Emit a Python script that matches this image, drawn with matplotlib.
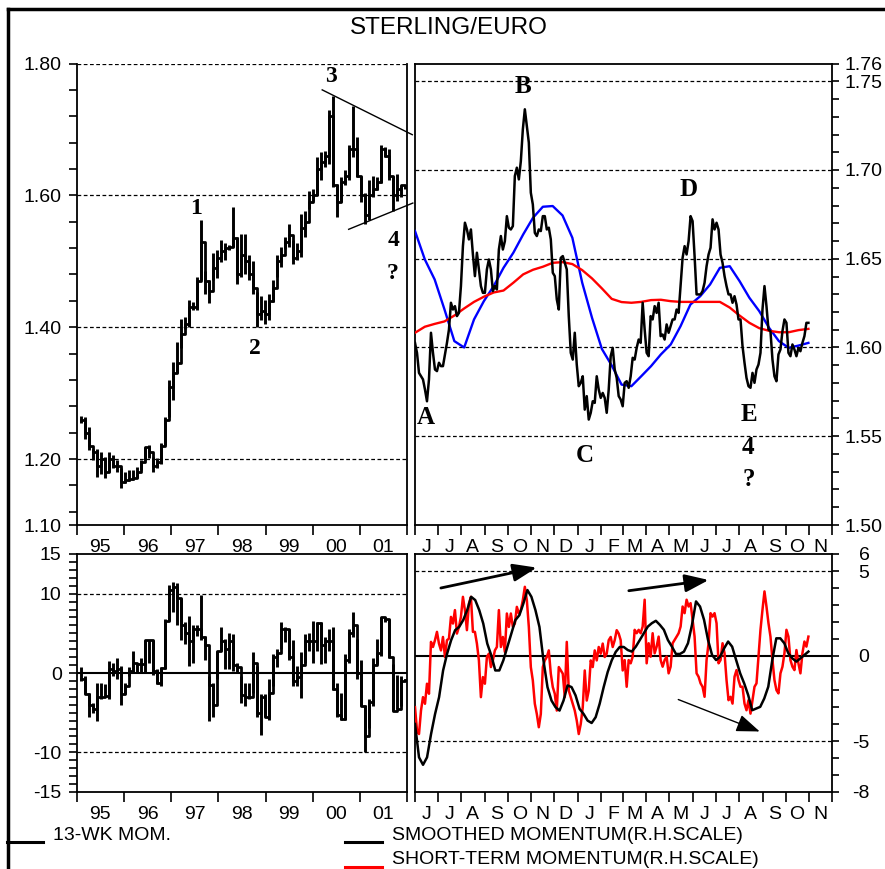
import numpy as np
import pandas as pd
import matplotlib
matplotlib.use("Agg")
import matplotlib.pyplot as plt
import matplotlib.dates as mdates
from matplotlib.lines import Line2D
from matplotlib.ticker import MultipleLocator, FixedLocator, FuncFormatter, NullFormatter

plt.rcParams['font.family'] = ['Liberation Sans', 'DejaVu Sans']
plt.rcParams['font.size'] = 14
plt.rcParams['axes.unicode_minus'] = False

# ---- long-term weekly chart (one bar per period, Feb 1995 - Dec 2001) ----
bar_high = [1.266, 1.264, 1.249, 1.216, 1.216, 1.211, 1.203, 1.211, 1.206, 1.199,
            1.186, 1.181, 1.183, 1.183, 1.188, 1.199, 1.219, 1.221, 1.203, 1.201,
            1.224, 1.264, 1.320, 1.347, 1.378, 1.413, 1.416, 1.441, 1.438, 1.476,
            1.562, 1.486, 1.471, 1.512, 1.517, 1.532, 1.527, 1.525, 1.583, 1.537,
            1.542, 1.542, 1.509, 1.501, 1.453, 1.448, 1.441, 1.451, 1.471, 1.509,
            1.522, 1.537, 1.557, 1.532, 1.527, 1.572, 1.577, 1.607, 1.610, 1.658,
            1.666, 1.668, 1.729, 1.751, 1.617, 1.628, 1.638, 1.676, 1.736, 1.688,
            1.630, 1.603, 1.623, 1.630, 1.628, 1.676, 1.673, 1.671, 1.630, 1.633,
            1.615, 1.615]
bar_low = [1.254, 1.231, 1.214, 1.199, 1.173, 1.178, 1.171, 1.181, 1.186, 1.181,
           1.156, 1.163, 1.166, 1.168, 1.171, 1.183, 1.199, 1.201, 1.181, 1.186,
           1.193, 1.221, 1.264, 1.289, 1.330, 1.368, 1.398, 1.400, 1.426, 1.426,
           1.471, 1.451, 1.436, 1.471, 1.474, 1.499, 1.502, 1.517, 1.522, 1.466,
           1.476, 1.481, 1.471, 1.451, 1.400, 1.411, 1.405, 1.411, 1.438, 1.476,
           1.491, 1.519, 1.522, 1.496, 1.502, 1.507, 1.537, 1.580, 1.592, 1.600,
           1.623, 1.643, 1.648, 1.612, 1.567, 1.590, 1.615, 1.623, 1.658, 1.628,
           1.590, 1.557, 1.562, 1.597, 1.608, 1.618, 1.658, 1.623, 1.577, 1.592,
           1.597, 1.610]
bar_close = [1.259, 1.240, 1.220, 1.210, 1.190, 1.200, 1.180, 1.200, 1.190, 1.190,
             1.165, 1.168, 1.170, 1.172, 1.180, 1.195, 1.218, 1.210, 1.190, 1.195,
             1.220, 1.260, 1.310, 1.330, 1.345, 1.390, 1.405, 1.430, 1.430, 1.470,
             1.530, 1.470, 1.455, 1.490, 1.505, 1.515, 1.520, 1.522, 1.535, 1.480,
             1.510, 1.500, 1.480, 1.460, 1.420, 1.425, 1.420, 1.440, 1.460, 1.500,
             1.510, 1.530, 1.540, 1.505, 1.515, 1.550, 1.560, 1.590, 1.600, 1.640,
             1.650, 1.660, 1.720, 1.615, 1.590, 1.620, 1.630, 1.670, 1.670, 1.630,
             1.600, 1.570, 1.600, 1.610, 1.620, 1.670, 1.660, 1.630, 1.600, 1.610,
             1.615, 1.612]

# 13-week momentum, same periods
mom_high = [0.7, -0.4, -2.5, -3.8, -1.2, -1.2, -1.4, 1.5, 1.3, 1.9,
            0.9, -1.2, 0.7, 2.8, 1.3, 1.9, 4.1, 4.1, 4.1, 0.5,
            0.7, 6.8, 11.1, 11.5, 11.3, 9.4, 6.4, 7.2, 6.0, 6.0,
            9.8, 4.7, -0.4, -1.2, 2.8, 5.8, 4.3, 5.1, 4.9, 1.3,
            -0.4, -1.2, -1.2, 2.6, 0.9, -2.7, -2.7, -0.8, 2.4, 3.0,
            6.4, 5.8, 5.6, 4.1, 0.9, 2.6, 4.9, 5.1, 6.6, 6.4,
            6.4, 4.5, 5.6, 5.8, -1.2, -2.5, 2.4, 5.6, 7.7, 4.3,
            1.7, -4.0, -3.3, 1.9, 4.3, 7.0, 7.0, 6.8, 1.1, -0.2,
            -0.4, -0.8]
mom_low = [-1.0, -2.7, -5.5, -5.0, -6.1, -3.3, -2.9, -3.3, -0.4, -0.8,
           -4.0, -2.7, -0.4, 0.0, 0.0, 0.0, 0.0, 1.3, -0.2, -1.4,
           -1.7, 0.5, 6.6, 7.7, 6.0, 4.1, 3.6, 0.9, 1.3, 4.7,
           4.1, 1.7, -6.1, -5.5, -0.8, 2.8, 0.5, 0.5, 0.3, 0.0,
           -3.8, -4.2, -3.3, -2.5, -5.5, -7.8, -5.5, -5.9, -1.7, 0.7,
           3.0, 3.9, 1.7, -1.7, -1.7, -3.1, 1.3, 2.8, 1.3, 2.8,
           1.1, 1.3, 2.8, -2.1, -5.5, -5.9, -5.9, 1.3, 4.5, -0.8,
           -4.2, -9.9, -6.9, -4.2, 1.1, 2.2, 6.4, 1.9, -4.8, -4.6,
           -4.2, -1.0]
mom_close = [-0.8, -2.7, -4.0, -4.5, -3.0, -3.0, -2.9, 0.5, 0.3, 0.5,
             -2.7, -1.7, 0.2, 1.2, 1.1, 1.1, 4.1, 4.1, 0.3, -1.2,
             0.6, 6.5, 10.5, 10.8, 9.5, 6.0, 5.0, 4.0, 5.5, 5.5,
             4.5, 3.5, -1.5, -4.0, 2.8, 4.0, 3.0, 4.0, 1.0, 0.8,
             -2.8, -3.0, -3.0, 1.2, -5.0, -3.0, -5.5, -2.5, 2.0, 2.5,
             5.5, 5.5, 2.0, -1.0, -0.5, 1.0, 4.0, 4.0, 4.0, 6.3,
             3.5, 4.0, 4.0, -2.0, -5.3, -5.8, 1.7, 5.0, 6.0, 0.0,
             -4.2, -8.0, -3.6, 1.0, 2.5, 7.0, 6.8, 2.0, -4.8, -4.5,
             -1.0, -0.9]

# ---- daily chart, June 2000 - October 2001 ----
spot = [1.6026, 1.5970, 1.5857, 1.5838, 1.5820, 1.5763, 1.5697, 1.5820, 1.6083, 1.5970,
        1.5876, 1.5867, 1.5914, 1.5895, 1.5895, 1.5961, 1.6026, 1.6101, 1.6252, 1.6214,
        1.6233, 1.6177, 1.6195, 1.6346, 1.6571, 1.6703, 1.6665, 1.6609, 1.6665, 1.6524,
        1.6402, 1.6534, 1.6440, 1.6346, 1.6308, 1.6308, 1.6440, 1.6496, 1.6440, 1.6318,
        1.6346, 1.6327, 1.6552, 1.6628, 1.6552, 1.6599, 1.6740, 1.6675, 1.6665, 1.6684,
        1.6966, 1.7013, 1.6947, 1.7050, 1.7229, 1.7342, 1.7248, 1.7154, 1.6872, 1.6806,
        1.6646, 1.6628, 1.6665, 1.6656, 1.6740, 1.6740, 1.6665, 1.6675, 1.6609, 1.6421,
        1.6402, 1.6271, 1.6214, 1.6505, 1.6515, 1.6477, 1.6440, 1.6177, 1.5970, 1.5932,
        1.6083, 1.5904, 1.5782, 1.5801, 1.5838, 1.5650, 1.5726, 1.5594, 1.5632, 1.5697,
        1.5688, 1.5838, 1.5763, 1.5716, 1.5744, 1.5716, 1.5632, 1.5763, 1.5951, 1.5998,
        1.5876, 1.5829, 1.5726, 1.5707, 1.5669,
        1.5801, 1.5810, 1.5773, 1.5838, 1.5942, 1.5932, 1.5998, 1.6045, 1.6026, 1.6252,
        1.6101, 1.5970, 1.5951, 1.6177, 1.6158, 1.6233, 1.6195, 1.6252, 1.6064, 1.6073,
        1.6045, 1.6130, 1.6083, 1.6120, 1.6158, 1.6158, 1.6214, 1.6195, 1.6346, 1.6505,
        1.6571, 1.6524, 1.6599, 1.6740, 1.6712, 1.6515, 1.6299, 1.6299, 1.6299, 1.6318,
        1.6365, 1.6458, 1.6524, 1.6562, 1.6722, 1.6665, 1.6703, 1.6665, 1.6524, 1.6477,
        1.6402, 1.6346, 1.6299, 1.6299, 1.6252, 1.6289, 1.6242, 1.6158, 1.6158, 1.6008,
        1.5914, 1.5829, 1.5782, 1.5773, 1.5857, 1.5801, 1.5876, 1.5904, 1.5970, 1.6214,
        1.6346, 1.6233, 1.6101, 1.6092, 1.5932, 1.5838, 1.5810, 1.5961, 1.5989, 1.6092,
        1.6158, 1.6139, 1.5970, 1.5951, 1.6017, 1.5989, 1.5951, 1.5998, 1.5979, 1.6026,
        1.6064, 1.6139, 1.6139]
ma_fast = [1.6656, 1.6496, 1.6383, 1.6214, 1.6036, 1.6000, 1.6158, 1.6261, 1.6346, 1.6449,
           1.6534, 1.6637, 1.6731, 1.6793, 1.6797, 1.6744, 1.6618, 1.6365, 1.6167, 1.5992,
           1.5899, 1.5791, 1.5782, 1.5838, 1.5895, 1.5961, 1.6017, 1.6120, 1.6242, 1.6289,
           1.6355, 1.6449, 1.6458, 1.6374, 1.6280, 1.6205, 1.6111, 1.6036, 1.5998, 1.6011,
           1.6026]
ma_slow = [1.6083, 1.6117, 1.6133, 1.6147, 1.6180, 1.6220, 1.6257, 1.6286, 1.6310, 1.6321,
           1.6365, 1.6412, 1.6438, 1.6455, 1.6477, 1.6481, 1.6470, 1.6436, 1.6389, 1.6333,
           1.6274, 1.6256, 1.6252, 1.6257, 1.6267, 1.6269, 1.6261, 1.6257, 1.6257, 1.6257,
           1.6257, 1.6257, 1.6225, 1.6180, 1.6139, 1.6109, 1.6094, 1.6086, 1.6086, 1.6098,
           1.6105]

mom_smooth = [-4.00, -5.96, -6.40, -5.96, -4.59, -3.41, -2.42, -0.85, 0.14, 0.93,
              1.52, 1.71, 2.11, 2.70, 3.48, 3.29, 2.70, 1.91, 0.73, 0.04,
              -0.85, -0.85, -0.26, 0.53, 1.32, 2.11, 2.40, 3.09, 3.88, 3.48,
              2.70, 1.71, -0.26, -1.83, -2.62, -3.01, -3.21, -2.62, -1.73, -1.83,
              -2.32, -3.11, -3.41, -3.80, -3.94, -3.60, -2.81, -1.83, -0.94, -0.26,
              0.24, 0.53, 0.53,
              0.35, 0.26, 0.55, 0.94, 1.34, 1.73, 1.93, 2.07, 1.83, 1.54,
              0.94, 0.55, 0.12, 0.12, 0.26, 0.75, 1.83, 3.21, 2.91, 2.13,
              0.94, 0.06, -0.24, -0.04, 0.45, 0.85, 0.55, -0.24, -1.02, -1.61,
              -2.30, -3.19, -3.09, -2.99, -2.50, -1.81, -0.24, 1.04, 1.04, 0.75,
              0.16, -0.14, -0.33, -0.14, 0.06, 0.26]
mom_short = [-3.01, -4.39, -4.59, -3.21, -2.42, -2.81, -1.63, -2.22, 0.83, 0.53,
             0.93, 1.42, 0.73, 0.33, 1.12, -0.06, 0.93, 1.02, 2.30, 1.91,
             2.70, 1.32, 1.71, 2.30, 3.48, 2.70, 1.52, 3.09, 3.48, 1.42,
             1.42, 0.73, -0.26, -2.42, -1.24, -1.63, -0.06, 0.14, -0.65, -0.26,
             0.33, 0.53, 2.70, 0.53, 1.12, 0.24, 2.50, 1.71, 2.50, 1.71,
             1.91, 2.89, 2.50, 2.70, 3.29, 4.07, 3.29, 1.71, -0.65, -1.44,
             -2.81, -3.41, -4.19, -3.41, -0.65, -0.26, -0.06, 0.33, -1.04, -1.83,
             -2.22, -3.21, -0.65, -0.85, -1.04, -2.42, 0.83, -2.03, -2.42, -2.81,
             -3.21, -3.80, -4.59, -4.00, -3.01, -0.85, -2.62, -2.03, -0.26, -0.65,
             0.33, -0.26, 0.53, 0.14, 0.73, -0.06, 0.14, 0.93, 1.12, 0.53,
             0.93, 1.52, 1.32, 0.93, -0.85,
             -0.24, -1.81, -0.24, -0.43, -0.04, 1.54, 1.34, 1.54, 1.34, 1.73,
             3.31, -0.43, 0.75, -0.04, 1.34, 0.16, 0.55, 1.14, -0.24, -0.63,
             -0.24, -0.04, -1.02, -0.63, 0.75, 0.94, 1.14, 1.34, 1.73, 2.91,
             2.52, 3.31, 2.91, 3.11, 2.13, 1.14, -1.02, -1.22, -1.61, -1.81,
             -2.40, -0.24, 0.75, 2.52, 2.32, 2.52, 1.93, -0.43, -0.24, 0.75,
             0.16, -1.42, -2.60, -2.40, -2.80, -1.22, -0.83, -1.42, -1.81, -1.81,
             -2.80, -3.19, -2.60, -3.39, -2.60, -1.81, -1.61, -0.04, 1.54, 2.72,
             3.80, 2.91, 1.93, 1.14, -0.24, -1.42, -2.01, -2.20, -1.02, -0.63,
             0.16, 1.54, 1.14, -0.24, -0.63, -0.83, 0.35, -0.43, -1.02, 0.16,
             0.85, 0.55, 1.14]

bar_dates = pd.date_range('1995-02-01', '2001-12-20', periods=len(bar_close))
day_start, day_end = '2000-06-01', '2001-10-31'
spot_dates = pd.date_range(day_start, day_end, periods=len(spot))
ma_dates = pd.date_range(day_start, day_end, periods=len(ma_fast))
smooth_dates = pd.date_range(day_start, day_end, periods=len(mom_smooth))
short_dates = pd.date_range(day_start, day_end, periods=len(mom_short))

W, H = 885, 869
fig = plt.figure(figsize=(W / 100, H / 100), dpi=100)


def box(x0, y0, x1, y1):
    return [x0 / W, 1 - y1 / H, (x1 - x0) / W, (y1 - y0) / H]


ax_tl = fig.add_axes(box(77, 63.5, 407, 525))
ax_tr = fig.add_axes(box(415, 63.5, 832, 525))
ax_bl = fig.add_axes(box(77, 554, 407, 792))
ax_br = fig.add_axes(box(415, 554, 832, 792))

dash = dict(color='black', lw=0.9, ls=(0, (3, 2)), zorder=1)
serif = dict(family='Liberation Serif', fontweight='bold', fontsize=18,
             ha='center', va='center')


def year_axis(ax):
    ax.set_xlim(pd.Timestamp('1995-01-01'), pd.Timestamp('2002-01-01'))
    ax.xaxis.set_major_locator(mdates.YearLocator())
    ax.xaxis.set_major_formatter(NullFormatter())
    ax.xaxis.set_minor_locator(mdates.MonthLocator(bymonth=7))
    ax.xaxis.set_minor_formatter(mdates.DateFormatter('%y'))
    ax.tick_params(axis='x', which='major', direction='out', length=7, width=1.2)
    ax.tick_params(axis='x', which='minor', length=0, pad=10)


def month_axis(ax):
    ax.set_xlim(pd.Timestamp('2000-06-01'), pd.Timestamp('2001-12-01'))
    ax.xaxis.set_major_locator(mdates.MonthLocator())
    ax.xaxis.set_major_formatter(NullFormatter())
    ax.xaxis.set_minor_locator(mdates.MonthLocator(bymonthday=16))
    ax.xaxis.set_minor_formatter(
        FuncFormatter(lambda v, pos: mdates.num2date(v).strftime('%b')[0]))
    ax.tick_params(axis='x', which='major', direction='out', length=7, width=1.2)
    ax.tick_params(axis='x', which='minor', length=0, pad=10)


def bar_steps(ax, dates, high, low, close):
    ax.vlines(dates, low, high, color='black', lw=2.1, zorder=3)
    ax.step(dates, close, where='post', color='black', lw=2.0, zorder=3)


for ax in (ax_tl, ax_tr, ax_bl, ax_br):
    for s in ax.spines.values():
        s.set_linewidth(1.3)

# top left: long-term bars
bar_steps(ax_tl, bar_dates, bar_high, bar_low, bar_close)
ax_tl.set_ylim(1.10, 1.80)
ax_tl.yaxis.set_major_locator(FixedLocator([1.10, 1.20, 1.40, 1.60, 1.80]))
ax_tl.yaxis.set_minor_locator(MultipleLocator(0.04))
ax_tl.yaxis.set_major_formatter(FuncFormatter(lambda v, p: f'{v:.2f}'))
ax_tl.tick_params(axis='y', which='both', direction='out', length=6, width=1.2, pad=5)
for lvl in (1.20, 1.40, 1.60, 1.80):
    ax_tl.axhline(lvl, **dash)
ax_tl.spines['top'].set_visible(False)
year_axis(ax_tl)

# triangle lines around the 2000-2001 range
ax_tl.plot([pd.Timestamp('2000-03-15'), pd.Timestamp('2002-02-11')], [1.760, 1.692],
           color='black', lw=1, clip_on=False, zorder=4)
ax_tl.plot([pd.Timestamp('2000-10-06'), pd.Timestamp('2002-02-15')], [1.5485, 1.5883],
           color='black', lw=1, clip_on=False, zorder=4)
for txt, d, y in [('1', '1997-07-15', 1.580), ('2', '1998-10-14', 1.368),
                  ('3', '2000-05-25', 1.780), ('4', '2001-09-19', 1.532),
                  ('?', '2001-09-14', 1.482)]:
    ax_tl.text(pd.Timestamp(d), y, txt, **{**serif, 'fontsize': 17})

# top right: daily rate with moving averages
ax_tr.plot(spot_dates, spot, color='black', lw=1.8, zorder=4)
ax_tr.plot(ma_dates, ma_fast, color='#0000ff', lw=1.7, zorder=3)
ax_tr.plot(ma_dates, ma_slow, color='#ff0000', lw=1.7, zorder=3)
ax_tr.set_ylim(1.50, 1.76)
ax_tr.yaxis.tick_right()
ax_tr.yaxis.set_major_locator(FixedLocator([1.50, 1.55, 1.60, 1.65, 1.70, 1.75, 1.76]))
ax_tr.yaxis.set_minor_locator(MultipleLocator(0.01))
ax_tr.yaxis.set_major_formatter(FuncFormatter(lambda v, p: f'{v:.2f}'))
ax_tr.tick_params(axis='y', which='both', direction='out', length=5, width=1.2, pad=4)
for lvl in (1.55, 1.60, 1.65, 1.70, 1.75):
    ax_tr.axhline(lvl, **dash)
month_axis(ax_tr)
for txt, d, y in [('B', '2000-10-21', 1.7472), ('D', '2001-05-26', 1.689),
                  ('A', '2000-06-15', 1.5603), ('C', '2001-01-10', 1.539),
                  ('E', '2001-08-14', 1.5621), ('4', '2001-08-13', 1.5437),
                  ('?', '2001-08-13', 1.5255)]:
    ax_tr.text(pd.Timestamp(d), y, txt, **serif)

# bottom left: 13-week momentum
bar_steps(ax_bl, bar_dates, mom_high, mom_low, mom_close)
ax_bl.set_ylim(-15, 15)
ax_bl.yaxis.set_major_locator(FixedLocator([-15, -10, 0, 10, 15]))
ax_bl.yaxis.set_minor_locator(MultipleLocator(1))
ax_bl.tick_params(axis='y', which='both', direction='out', length=6, width=1.2, pad=5)
for lvl in (-10, 10):
    ax_bl.axhline(lvl, **dash)
ax_bl.axhline(0, color='black', lw=1.5, zorder=2)
year_axis(ax_bl)

# bottom right: smoothed and short-term momentum
ax_br.plot(short_dates, mom_short, color='#ff0000', lw=1.8, zorder=3)
ax_br.plot(smooth_dates, mom_smooth, color='black', lw=1.8, zorder=4)
ax_br.set_ylim(-8, 6)
ax_br.yaxis.tick_right()
ax_br.yaxis.set_major_locator(FixedLocator([-8, -5, 0, 5, 6]))
ax_br.yaxis.set_minor_locator(MultipleLocator(1))
ax_br.tick_params(axis='y', which='both', direction='out', length=5, width=1.2, pad=22)
for lab in ax_br.get_yticklabels():
    lab.set_horizontalalignment('right')
for lvl in (-5, 5):
    ax_br.axhline(lvl, **dash)
ax_br.axhline(0, color='black', lw=1.5, zorder=2)
month_axis(ax_br)

arrows = [(('2000-07-05', 4.0), ('2000-11-08', 5.2), 2.0),
          (('2001-03-09', 3.84), ('2001-06-22', 4.47), 2.0),
          (('2001-05-13', -2.56), ('2001-08-28', -4.44), 1.0)]
for (d0, y0), (d1, y1), lw in arrows:
    ax_br.annotate('', xy=(pd.Timestamp(d1), y1), xytext=(pd.Timestamp(d0), y0),
                   arrowprops=dict(arrowstyle='-|>,head_length=0.8,head_width=0.3',
                                   mutation_scale=18, color='black', lw=lw,
                                   shrinkA=0, shrinkB=0), zorder=5)

# title, legend and outer frame
fig.text(449 / W, 1 - 28 / H, 'STERLING/EURO', ha='center', va='center', fontsize=17.5)


def fig_line(x0, x1, y, color):
    fig.add_artist(Line2D([x0 / W, x1 / W], [1 - y / H] * 2, color=color, lw=2.2))


fig_line(7, 43, 842, 'black')
fig.text(53 / W, 1 - 836 / H, '13-WK MOM.', ha='left', va='center', fontsize=14)
fig_line(345, 382, 842, 'black')
fig.text(392 / W, 1 - 836 / H, 'SMOOTHED MOMENTUM(R.H.SCALE)', ha='left', va='center', fontsize=14)
fig_line(345, 382, 866.5, '#ff0000')
fig.text(392 / W, 1 - 860 / H, 'SHORT-TERM MOMENTUM(R.H.SCALE)', ha='left', va='center', fontsize=14)

fig.add_artist(Line2D([8 / W, 8 / W], [0, 1 - 9 / H], color='black', lw=2.5))
fig.add_artist(Line2D([8 / W, 1], [1 - 9 / H] * 2, color='black', lw=2.5))

fig.savefig('out.png', dpi=100)
